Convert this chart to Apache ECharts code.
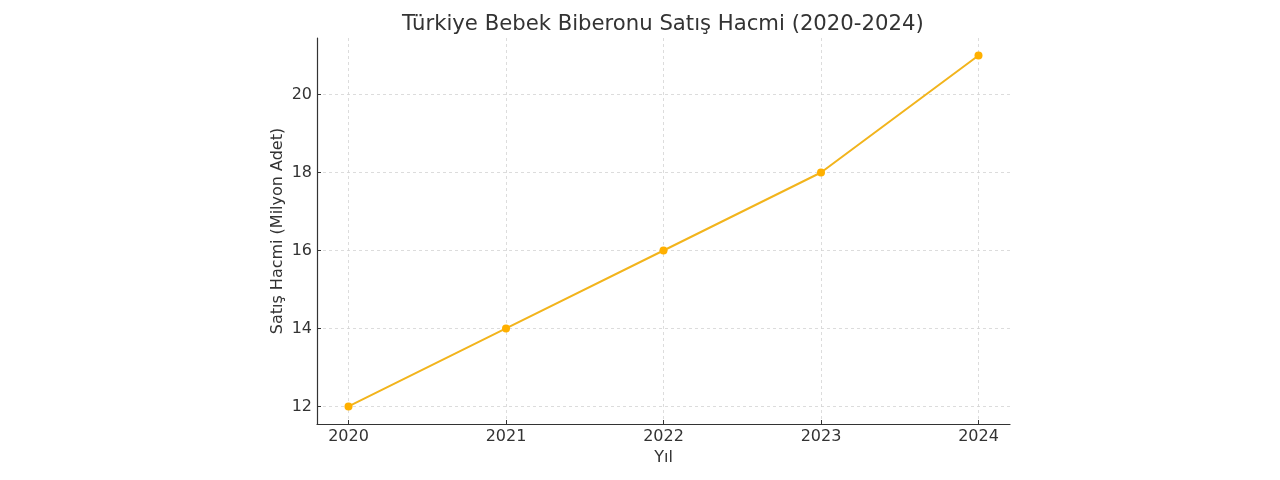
<!DOCTYPE html>
<html><head><meta charset="utf-8">
<script src="https://cdn.jsdelivr.net/npm/echarts@6/dist/echarts.min.js"></script>
<style>html,body{margin:0;padding:0;background:#fff}#c{width:1280px;height:480px}</style>
</head><body><div id="c"></div>
<script>
const years = [2020, 2021, 2022, 2023, 2024];
const sales = [12, 14, 16, 18, 21];
const yTicks = [12, 14, 16, 18, 20];
const titleText = 'Türkiye Bebek Biberonu Satış Hacmi (2020-2024)';
const xName = 'Yıl';
const yName = 'Satış Hacmi (Milyon Adet)';

const font = 'DejaVu Sans';
const chart = echarts.init(document.getElementById('c'));
chart.setOption({
  backgroundColor: '#fff',
  animation: false,
  title: { text: titleText, left: 397, top: 9,
    textStyle: { fontFamily: font, fontSize: 21.2, fontWeight: 'normal', color: '#333' } },
  grid: { left: 317, right: 270, top: 38, bottom: 56 },
  xAxis: {
    type: 'value', min: 2019.8, max: 2024.2,
    name: xName, nameLocation: 'middle', nameGap: 25,
    nameTextStyle: { fontFamily: font, fontSize: 16, color: '#333' },
    axisLine: { show: true, lineStyle: { color: '#333', width: 1.2 } },
    axisTick: { show: true, inside: true, length: 4, lineStyle: { color: '#333' }, customValues: years },
    axisLabel: { fontFamily: font, fontSize: 16, color: '#333', margin: 5, customValues: years,
      formatter: v => String(Math.round(v)) },
    splitLine: { show: true, lineStyle: { color: '#d4d4d4', type: [3, 3], width: 0.8 } }
  },
  yAxis: {
    type: 'value', min: 11.55, max: 21.45,
    name: yName, nameLocation: 'middle', nameGap: 31, nameRotate: 90, nameMoveOverlap: false,
    nameTextStyle: { fontFamily: font, fontSize: 16, color: '#333' },
    axisLine: { show: true, lineStyle: { color: '#333', width: 1.2 } },
    axisTick: { show: true, inside: true, length: 4, lineStyle: { color: '#333' }, customValues: yTicks },
    axisLabel: { fontFamily: font, fontSize: 16, color: '#333', margin: 5, customValues: yTicks },
    splitLine: { show: true, lineStyle: { color: '#d4d4d4', type: [3, 3], width: 0.8 } }
  },
  series: [{
    type: 'line',
    data: years.map((y, i) => [y, sales[i]]),
    symbol: 'circle', symbolSize: 8,
    lineStyle: { color: '#f2b41c', width: 2 },
    itemStyle: { color: '#ffb000' }
  }]
});
</script></body></html>
